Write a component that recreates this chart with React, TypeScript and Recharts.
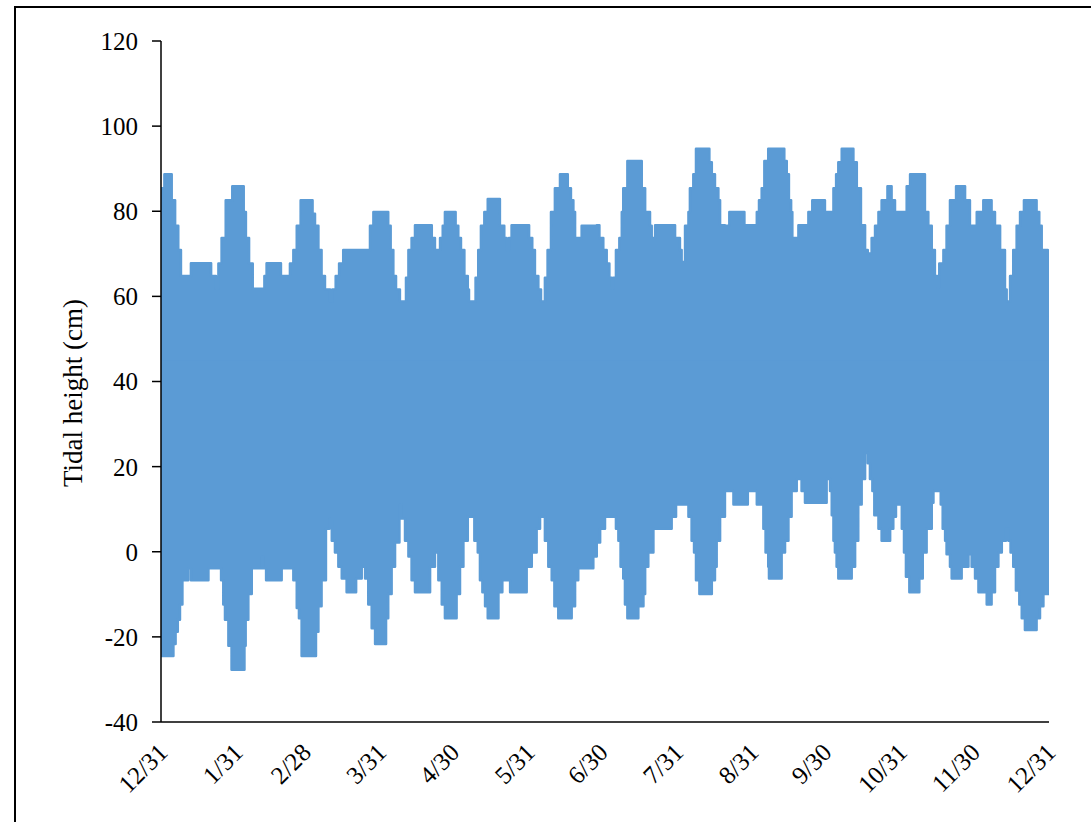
import React from "react";
import { ComposedChart, Area, XAxis, YAxis } from "recharts";

// Upper envelope of the tidal record (day since 12/31, height in cm)
const upperDays = [
  0, 0.4, 1.4, 3.7, 4.4, 5.8, 7.1, 8.2, 11.2, 12.3, 19.5, 20.6, 22.6, 23.6, 24.9, 26.6, 29.3, 33.2, 34.0, 34.9,
  36.2, 37.7, 41.6, 42.5, 43.4, 48.6, 49.3, 52.3, 53.0, 54.4, 55.8, 57.4, 61.5, 62.3, 63.3, 64.7, 66.0, 67.4, 69.5, 70.4,
  71.8, 73.2, 74.9, 84.5, 85.9, 87.3, 92.5, 93.4, 94.4, 95.5, 96.6, 98.2, 100.0, 100.7, 101.7, 103.0, 104.4, 110.3, 111.3, 112.6,
  114.7, 115.8, 116.7, 120.2, 121.1, 122.2, 123.3, 124.7, 126.1, 126.6, 128.8, 129.3, 130.4, 131.5, 132.9, 134.3, 138.0, 139.3, 141.1, 142.1,
  143.0, 144.1, 150.3, 151.3, 152.6, 153.7, 155.1, 156.2, 156.7, 157.8, 158.9, 160.3, 161.9, 164.0, 166.1, 167.2, 168.5, 169.5, 170.2, 171.3,
  172.9, 179.1, 180.2, 181.8, 183.2, 184.3, 185.3, 185.9, 187.0, 188.4, 189.4, 190.0, 191.7, 196.2, 197.6, 199.0, 201.0, 201.7, 203.1, 209.9,
  211.3, 213.3, 214.0, 215.4, 216.8, 217.4, 218.8, 219.9, 224.3, 225.4, 226.4, 227.7, 229.1, 229.8, 231.8, 233.6, 239.0, 239.8, 244.2, 244.9,
  245.8, 246.9, 248.0, 249.6, 254.9, 256.2, 257.2, 258.1, 259.0, 259.5, 261.3, 262.0, 265.4, 266.1, 267.7, 271.8, 272.9, 275.0, 276.4, 277.5,
  278.4, 279.8, 283.9, 284.6, 286.0, 287.7, 289.4, 290.5, 292.1, 293.5, 294.9, 296.2, 297.6, 298.6, 300.3, 301.7, 304.4, 306.5, 307.9, 313.1,
  314.0, 315.4, 316.8, 318.1, 319.1, 319.9, 321.6, 322.9, 324.3, 326.8, 328.7, 330.5, 332.5, 335.3, 338.0, 340.1, 341.4, 342.8, 344.9, 346.9,
  347.6, 349.0, 350.3, 351.7, 353.1, 354.7, 358.6, 359.9, 361.0, 362.0, 364.0, 364.5, 365,
];
const upperValues = [
  64.8, 85.4, 88.7, 88.7, 82.6, 76.6, 70.9, 64.8, 64.8, 67.8, 67.8, 64.8, 61.8, 67.7, 73.7, 82.6, 85.9, 85.9, 79.8, 73.7,
  67.7, 61.8, 61.8, 64.8, 67.8, 67.8, 64.8, 64.8, 67.7, 70.9, 76.6, 82.6, 82.6, 79.4, 76.6, 70.9, 64.8, 61.6, 58.8, 61.6,
  64.8, 67.7, 70.9, 70.9, 76.6, 79.8, 79.8, 76.6, 70.9, 64.8, 61.6, 58.8, 58.8, 64.4, 70.9, 73.7, 76.7, 76.7, 73.7, 70.9,
  73.7, 76.6, 79.8, 79.8, 76.6, 73.7, 70.9, 64.8, 61.6, 58.8, 58.8, 64.4, 70.9, 76.6, 79.8, 82.9, 82.9, 76.6, 73.7, 70.9,
  73.7, 76.7, 76.7, 73.7, 70.9, 64.8, 61.6, 58.8, 58.8, 64.4, 70.9, 79.8, 85.4, 88.7, 88.7, 85.4, 82.6, 79.8, 73.7, 73.7,
  76.6, 76.7, 73.7, 70.9, 67.7, 64.4, 61.8, 64.4, 70.9, 73.7, 79.8, 85.4, 91.8, 91.8, 85.4, 79.8, 76.6, 73.7, 76.7, 76.7,
  73.7, 70.9, 68.1, 76.6, 79.8, 85.4, 88.7, 94.7, 94.7, 91.5, 88.7, 85.4, 82.6, 76.7, 76.6, 79.8, 79.8, 76.7, 76.7, 79.8,
  82.6, 85.4, 91.8, 94.7, 94.7, 91.8, 88.7, 82.6, 79.8, 73.7, 73.7, 76.7, 76.7, 79.8, 82.6, 82.6, 79.8, 79.8, 85.4, 88.7,
  91.5, 94.7, 94.7, 91.5, 85.4, 76.7, 70.9, 70.1, 73.7, 76.6, 79.8, 82.6, 82.6, 85.9, 82.6, 79.8, 79.8, 85.9, 88.7, 88.7,
  79.8, 76.6, 70.9, 64.8, 62.0, 67.7, 70.9, 76.6, 82.6, 85.9, 85.9, 82.6, 76.6, 79.8, 82.6, 82.6, 79.8, 76.6, 70.9, 61.6,
  58.8, 64.8, 70.9, 76.6, 79.8, 82.6, 82.6, 79.8, 76.6, 70.9, 70.9, 55.5, 55.5,
];

// Lower envelope of the tidal record
const lowerDays = [
  0, 4.4, 5.1, 6.0, 6.9, 7.8, 8.8, 11.2, 12.3, 18.8, 19.5, 23.6, 24.7, 25.6, 26.3, 27.7, 29.0, 33.4, 34.3, 34.8,
  35.9, 37.3, 41.4, 42.1, 43.2, 48.9, 49.6, 53.7, 54.4, 55.8, 56.7, 57.8, 62.6, 63.7, 64.7, 66.0, 67.8, 69.2, 70.2, 71.5,
  72.9, 74.3, 76.3, 79.1, 80.2, 82.5, 83.9, 85.2, 86.6, 88.0, 91.4, 92.5, 93.4, 94.8, 96.2, 98.0, 98.9, 100.3, 101.7, 103.0,
  104.4, 109.2, 110.6, 112.6, 114.0, 115.4, 116.7, 120.6, 121.5, 122.9, 124.3, 126.1, 127.7, 128.8, 130.2, 131.1, 132.1, 133.2, 134.3, 137.3,
  138.7, 140.3, 143.5, 148.9, 150.3, 152.4, 154.4, 155.8, 156.7, 157.8, 159.2, 160.6, 161.7, 163.3, 167.4, 168.8, 170.2, 171.5, 176.3, 177.7,
  179.1, 180.5, 182.5, 185.9, 187.0, 188.0, 188.9, 190.0, 190.7, 191.7, 195.3, 196.2, 198.3, 199.0, 200.3, 202.4, 209.2, 209.9, 211.7, 216.1,
  216.8, 218.1, 219.1, 219.9, 221.3, 225.0, 226.4, 227.7, 228.4, 229.8, 231.8, 235.3, 240.1, 241.2, 243.9, 244.9, 246.2, 247.6, 248.5, 249.6,
  249.9, 253.8, 255.1, 256.5, 257.9, 259.2, 261.3, 262.7, 263.3, 264.7, 272.3, 273.6, 275.0, 275.7, 276.4, 277.0, 277.7, 278.4, 283.2, 283.9,
  285.3, 286.6, 288.0, 289.4, 290.5, 291.4, 292.4, 293.2, 294.9, 296.2, 299.0, 299.7, 301.0, 302.1, 303.5, 304.5, 305.4, 306.2, 307.6, 310.6,
  311.7, 313.1, 314.7, 316.8, 317.5, 319.5, 320.5, 321.3, 322.3, 322.9, 324.3, 325.0, 328.4, 329.1, 331.9, 333.2, 334.6, 336.0, 339.4, 341.4,
  342.8, 344.2, 345.6, 347.3, 348.3, 349.2, 350.3, 351.4, 352.8, 353.8, 355.1, 357.9, 359.9, 361.3, 362.7, 365,
];
const lowerValues = [
  -24.5, -24.5, -21.7, -18.8, -16.0, -12.4, -6.7, -3.9, -6.7, -6.7, -3.9, -3.9, -6.7, -12.4, -16.0, -22.1, -27.7, -27.7, -22.1, -16.0,
  -9.9, -3.9, -1.1, -3.9, -6.7, -6.7, -3.9, -3.9, -6.7, -13.2, -15.6, -24.5, -24.5, -18.8, -12.8, -6.7, 5.4, 7.8, 2.6, -0.2,
  -3.5, -6.3, -9.5, -9.5, -6.3, -3.5, -6.3, -12.4, -18.0, -21.7, -21.7, -15.6, -9.9, -3.5, 2.2, 11.1, 7.8, 2.6, -1.1, -6.7,
  -9.5, -9.5, -3.5, -0.2, -6.7, -12.4, -15.6, -15.6, -9.9, -3.5, 2.6, 8.2, 8.2, 2.6, -0.2, -6.7, -9.5, -12.8, -15.6, -15.6,
  -9.5, -6.7, -9.5, -9.5, -3.5, -0.2, 5.4, 8.2, 8.2, 2.6, -3.5, -6.7, -12.8, -15.6, -15.6, -12.8, -6.7, -3.9, -3.9, -1.1,
  2.2, 5.4, 8.2, 8.2, 5.4, 2.6, -3.5, -6.3, -12.4, -15.6, -15.6, -12.8, -9.9, -3.5, -0.2, 5.4, 5.4, 8.2, 11.1, 11.1,
  8.2, 2.6, -0.2, -6.7, -9.9, -9.9, -6.7, -3.5, 2.6, 8.2, 14.3, 11.1, 11.1, 14.3, 14.3, 11.1, 11.1, 5.4, -0.2, -3.5,
  -6.3, -6.3, -0.2, 2.6, 8.2, 14.3, 17.1, 17.1, 14.3, 11.5, 11.5, 17.1, 14.3, 8.6, 2.6, -0.2, -3.5, -6.3, -6.3, -3.5,
  2.6, 11.1, 17.1, 23.2, 20.8, 17.1, 14.3, 8.6, 5.4, 2.6, 2.6, 5.4, 8.2, 11.1, 11.1, 5.4, -0.2, -5.9, -9.5, -9.5,
  -6.3, -0.2, 5.4, 11.5, 14.3, 14.3, 11.1, 5.4, 2.6, -0.6, -3.5, -6.3, -6.3, -3.5, -0.6, -3.5, -6.3, -9.5, -12.4, -9.5,
  -3.5, -0.2, 2.6, 5.4, 2.6, -0.2, -3.5, -9.1, -12.4, -15.6, -18.4, -18.4, -15.6, -12.8, -9.9, -9.9,
];

const xTickDays = [0, 31, 59, 90, 120, 151, 181, 212, 243, 273, 304, 334, 365];
const xTickLabels = ["12/31", "1/31", "2/28", "3/31", "4/30", "5/31", "6/30", "7/31", "8/31", "9/30", "10/31", "11/30", "12/31"];
const yTicks = [-40, -20, 0, 20, 40, 60, 80, 100, 120];
const yTitle = "Tidal height (cm)";

const BLUE = "#5B9BD5";
const FONT = "'Liberation Serif', 'Times New Roman', serif";

type Row = { day: number; hi?: number; lo?: number };
const table: Row[] = [
  ...upperDays.map((d, i) => ({ day: d, hi: upperValues[i] })),
  ...lowerDays.map((d, i) => ({ day: d, lo: lowerValues[i] })),
].sort((a, b) => a.day - b.day);

const XTick = (props: any) => {
  const { x, y, payload } = props;
  const idx = xTickDays.indexOf(payload.value);
  const label = idx >= 0 ? xTickLabels[idx] : String(payload.value);
  const ax = x + 8;
  const ay = y + 24;
  return (
    <text
      x={ax}
      y={ay}
      transform={`rotate(-45, ${ax}, ${ay})`}
      textAnchor="end"
      fontSize={25}
      fontFamily={FONT}
      fill="#000"
    >
      {label}
    </text>
  );
};

export default function App() {
  return (
    <div
      style={{
        position: "absolute",
        left: 0,
        top: 0,
        width: 1091,
        height: 822,
        overflow: "hidden",
        background: "#fff",
      }}
    >
      <div
        style={{
          position: "absolute",
          left: 14,
          top: 6,
          width: 1120,
          height: 900,
          border: "2px solid #000",
          boxSizing: "border-box",
        }}
      />
      <div style={{ position: "absolute", left: 0, top: 0 }}>
        <ComposedChart
          width={1091}
          height={822}
          data={table}
          margin={{ top: 41, right: 42, bottom: 0, left: 101 }}
        >
          <XAxis
            type="number"
            dataKey="day"
            domain={[0, 365]}
            ticks={xTickDays}
            interval={0}
            tickLine={false}
            axisLine={{ stroke: "#000", strokeWidth: 1.5 }}
            height={100}
            tick={<XTick />}
            allowDataOverflow
          />
          <YAxis
            type="number"
            domain={[-40, 120]}
            ticks={yTicks}
            interval={0}
            width={60}
            tickSize={9}
            tickMargin={14}
            axisLine={{ stroke: "#000", strokeWidth: 1.5 }}
            tickLine={{ stroke: "#000", strokeWidth: 1.5 }}
            tick={{ fontSize: 25, fill: "#000", fontFamily: FONT }}
            allowDataOverflow
          />
          <Area
            type="stepAfter"
            dataKey="hi"
            baseValue={35}
            connectNulls
            stroke={BLUE}
            strokeWidth={2.5}
            strokeLinejoin="round"
            fill={BLUE}
            fillOpacity={1}
            dot={false}
            activeDot={false}
            isAnimationActive={false}
          />
          <Area
            type="stepAfter"
            dataKey="lo"
            baseValue={45}
            connectNulls
            stroke={BLUE}
            strokeWidth={2.5}
            strokeLinejoin="round"
            fill={BLUE}
            fillOpacity={1}
            dot={false}
            activeDot={false}
            isAnimationActive={false}
          />
        </ComposedChart>
      </div>
      <svg
        width={1091}
        height={822}
        style={{ position: "absolute", left: 0, top: 0, pointerEvents: "none" }}
      >
        <text
          x={82}
          y={393}
          transform="rotate(-90, 82, 393)"
          textAnchor="middle"
          fontSize={27}
          fontFamily={FONT}
          fill="#000"
        >
          {yTitle}
        </text>
      </svg>
    </div>
  );
}
